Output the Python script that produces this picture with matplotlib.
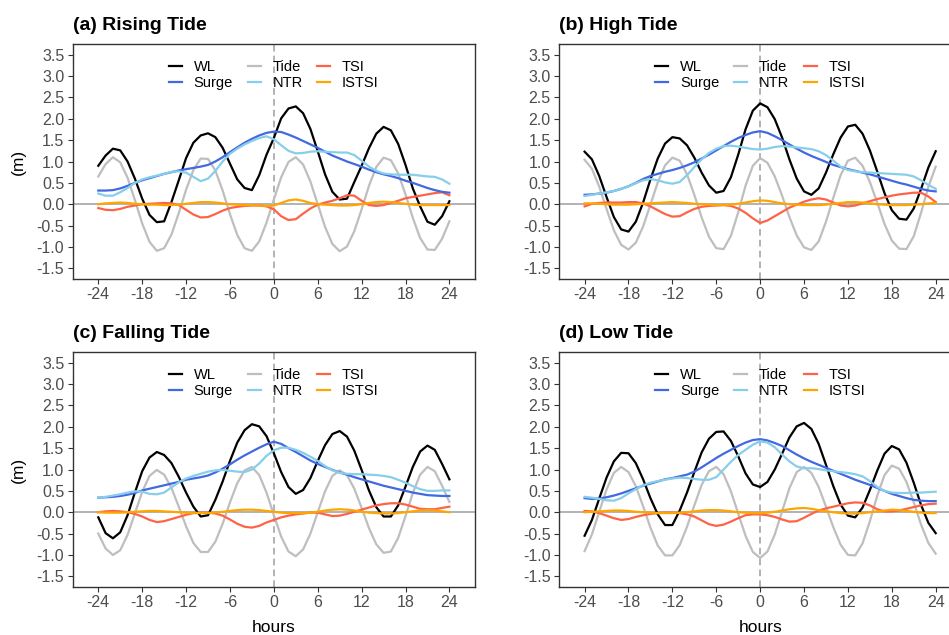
import matplotlib
matplotlib.use("Agg")
import matplotlib.pyplot as plt

plt.rcParams['font.family'] = ['Liberation Sans', 'DejaVu Sans']

hours = list(range(-24, 25))

# (a) rising tide
wl_a = [0.90, 1.14, 1.30, 1.26, 1.00, 0.60, 0.13, -0.25, -0.42, -0.40,
        0.05, 0.56, 1.08, 1.44, 1.61, 1.66, 1.57, 1.32, 0.95, 0.58,
        0.38, 0.33, 0.68, 1.16, 1.55, 2.01, 2.24, 2.29, 2.13, 1.76,
        1.24, 0.70, 0.29, 0.11, 0.13, 0.52, 0.90, 1.31, 1.65, 1.81,
        1.73, 1.41, 0.92, 0.37, -0.05, -0.41, -0.48, -0.28, 0.07]
tide_a = [0.65, 0.94, 1.10, 0.98, 0.62, 0.10, -0.45, -0.88, -1.09, -1.03,
          -0.71, -0.21, 0.34, 0.80, 1.07, 1.06, 0.79, 0.32, -0.23, -0.72,
          -1.03, -1.09, -0.87, -0.43, 0.11, 0.63, 0.99, 1.10, 0.93, 0.53,
          0.00, -0.53, -0.93, -1.10, -0.99, -0.63, -0.12, 0.43, 0.87, 1.09,
          1.03, 0.72, 0.23, -0.32, -0.79, -1.06, -1.07, -0.81, -0.40]
surge_a = [0.32, 0.32, 0.33, 0.37, 0.43, 0.50, 0.56, 0.61, 0.66, 0.71,
           0.75, 0.79, 0.82, 0.85, 0.88, 0.92, 1.00, 1.10, 1.22, 1.33,
           1.44, 1.53, 1.61, 1.67, 1.70, 1.69, 1.63, 1.56, 1.48, 1.40,
           1.32, 1.23, 1.14, 1.07, 1.00, 0.94, 0.88, 0.81, 0.75, 0.70,
           0.66, 0.61, 0.55, 0.50, 0.44, 0.38, 0.33, 0.29, 0.27]
ntr_a = [0.25, 0.20, 0.20, 0.28, 0.38, 0.50, 0.58, 0.63, 0.67, 0.71,
         0.76, 0.77, 0.74, 0.64, 0.54, 0.60, 0.78, 1.00, 1.18, 1.30,
         1.40, 1.48, 1.55, 1.59, 1.52, 1.38, 1.25, 1.19, 1.20, 1.23,
         1.24, 1.23, 1.22, 1.21, 1.21, 1.15, 1.02, 0.88, 0.78, 0.72,
         0.70, 0.69, 0.69, 0.69, 0.67, 0.65, 0.64, 0.58, 0.48]
tsi_a = [-0.09, -0.13, -0.14, -0.11, -0.06, -0.03, 0.00, 0.01, 0.02, 0.03,
         0.02, -0.02, -0.13, -0.24, -0.31, -0.30, -0.23, -0.15, -0.09, -0.06,
         -0.04, -0.03, -0.03, -0.05, -0.12, -0.28, -0.37, -0.35, -0.22, -0.10,
         -0.01, 0.04, 0.08, 0.14, 0.21, 0.20, 0.08, -0.02, -0.04, -0.02,
         0.03, 0.08, 0.14, 0.17, 0.20, 0.23, 0.26, 0.28, 0.21]
istsi_a = [0.00, 0.02, 0.03, 0.04, 0.03, 0.01, 0.00, -0.01, -0.01, -0.02,
           -0.02, -0.01, 0.01, 0.03, 0.05, 0.05, 0.04, 0.02, 0.00, -0.01,
           -0.02, -0.02, -0.03, -0.04, -0.03, 0.03, 0.09, 0.11, 0.08, 0.03,
           0.00, -0.01, -0.02, -0.03, -0.03, -0.02, 0.00, 0.03, 0.05, 0.06,
           0.05, 0.03, 0.01, -0.01, -0.02, -0.02, -0.02, -0.02, -0.02]

# (b) high tide
wl_b = [1.23, 1.05, 0.66, 0.17, -0.30, -0.59, -0.64, -0.41, 0.04, 0.58,
        1.07, 1.42, 1.57, 1.54, 1.38, 1.09, 0.74, 0.44, 0.27, 0.31,
        0.63, 1.16, 1.75, 2.19, 2.36, 2.27, 1.99, 1.56, 1.05, 0.60,
        0.30, 0.22, 0.37, 0.74, 1.17, 1.56, 1.82, 1.86, 1.65, 1.26,
        0.77, 0.26, -0.14, -0.34, -0.36, -0.10, 0.36, 0.86, 1.24]
tide_b = [1.04, 0.83, 0.41, -0.11, -0.61, -0.95, -1.06, -0.90, -0.52, -0.01,
          0.51, 0.91, 1.09, 1.02, 0.70, 0.22, -0.31, -0.76, -1.03, -1.05,
          -0.74, -0.19, 0.43, 0.90, 1.08, 0.97, 0.65, 0.20, -0.30, -0.73,
          -1.01, -1.07, -0.87, -0.41, 0.15, 0.68, 1.02, 1.09, 0.90, 0.52,
          0.04, -0.46, -0.85, -1.04, -1.05, -0.75, -0.20, 0.41, 0.88]
surge_b = [0.22, 0.23, 0.25, 0.27, 0.31, 0.36, 0.42, 0.50, 0.59, 0.66,
           0.71, 0.76, 0.80, 0.85, 0.91, 0.98, 1.07, 1.16, 1.26, 1.36,
           1.46, 1.55, 1.62, 1.68, 1.71, 1.67, 1.59, 1.50, 1.40, 1.30,
           1.21, 1.13, 1.06, 0.99, 0.92, 0.87, 0.82, 0.78, 0.74, 0.70,
           0.65, 0.60, 0.55, 0.50, 0.46, 0.41, 0.36, 0.32, 0.30]
ntr_b = [0.19, 0.22, 0.25, 0.28, 0.31, 0.36, 0.42, 0.49, 0.56, 0.59,
         0.56, 0.51, 0.48, 0.52, 0.68, 0.87, 1.05, 1.20, 1.30, 1.36,
         1.37, 1.35, 1.32, 1.29, 1.28, 1.30, 1.34, 1.36, 1.35, 1.33,
         1.31, 1.29, 1.24, 1.15, 1.02, 0.88, 0.80, 0.77, 0.75, 0.74,
         0.73, 0.72, 0.71, 0.70, 0.69, 0.65, 0.56, 0.45, 0.36]
tsi_b = [-0.05, 0.01, 0.03, 0.04, 0.04, 0.04, 0.05, 0.05, 0.02, -0.05,
         -0.14, -0.23, -0.29, -0.28, -0.19, -0.11, -0.06, -0.04, -0.03, -0.02,
         -0.04, -0.10, -0.20, -0.33, -0.44, -0.38, -0.28, -0.18, -0.08, -0.01,
         0.06, 0.11, 0.14, 0.11, 0.04, -0.03, -0.05, -0.03, 0.02, 0.07,
         0.12, 0.16, 0.20, 0.23, 0.25, 0.27, 0.27, 0.18, 0.05]
istsi_b = [0.02, 0.02, 0.01, 0.00, -0.01, -0.01, -0.01, 0.00, 0.01, 0.02,
           0.03, 0.04, 0.05, 0.04, 0.03, 0.01, 0.00, -0.01, -0.02, -0.02,
           -0.01, 0.01, 0.04, 0.07, 0.09, 0.08, 0.05, 0.02, 0.00, -0.01,
           -0.02, -0.02, -0.02, -0.01, 0.01, 0.03, 0.05, 0.05, 0.04, 0.02,
           0.00, -0.01, -0.02, -0.02, -0.02, -0.01, 0.00, 0.02, 0.03]

# (c) falling tide
wl_c = [-0.12, -0.49, -0.61, -0.47, -0.07, 0.46, 0.96, 1.28, 1.41, 1.34,
        1.15, 0.83, 0.46, 0.13, -0.10, -0.07, 0.29, 0.72, 1.20, 1.63,
        1.92, 2.06, 2.01, 1.78, 1.38, 0.94, 0.59, 0.43, 0.52, 0.80,
        1.20, 1.57, 1.83, 1.90, 1.77, 1.44, 0.99, 0.51, 0.12, -0.10,
        -0.10, 0.16, 0.60, 1.06, 1.42, 1.56, 1.46, 1.13, 0.77]
tide_c = [-0.50, -0.85, -1.00, -0.89, -0.53, -0.03, 0.48, 0.85, 0.99, 0.88,
          0.57, 0.13, -0.33, -0.72, -0.93, -0.93, -0.69, -0.27, 0.23, 0.68,
          0.98, 1.06, 0.87, 0.46, -0.07, -0.57, -0.92, -1.03, -0.87, -0.50,
          0.00, 0.49, 0.85, 0.98, 0.87, 0.55, 0.10, -0.37, -0.75, -0.95,
          -0.92, -0.60, -0.09, 0.45, 0.88, 1.06, 0.96, 0.62, 0.24]
surge_c = [0.34, 0.35, 0.36, 0.38, 0.41, 0.45, 0.51, 0.55, 0.59, 0.63,
           0.67, 0.71, 0.76, 0.79, 0.82, 0.86, 0.93, 1.02, 1.12, 1.23,
           1.33, 1.42, 1.51, 1.59, 1.65, 1.60, 1.50, 1.41, 1.31, 1.21,
           1.13, 1.06, 0.99, 0.93, 0.88, 0.82, 0.77, 0.72, 0.67, 0.62,
           0.58, 0.54, 0.50, 0.46, 0.43, 0.40, 0.39, 0.38, 0.38]
ntr_c = [0.34, 0.36, 0.39, 0.42, 0.46, 0.49, 0.48, 0.43, 0.42, 0.46,
         0.58, 0.70, 0.79, 0.85, 0.90, 0.95, 0.98, 0.99, 0.97, 0.95,
         0.94, 1.00, 1.14, 1.32, 1.45, 1.51, 1.51, 1.46, 1.39, 1.30,
         1.20, 1.08, 0.98, 0.92, 0.90, 0.89, 0.89, 0.88, 0.87, 0.85,
         0.82, 0.76, 0.69, 0.61, 0.54, 0.50, 0.50, 0.51, 0.51]
tsi_c = [0.00, 0.02, 0.03, 0.02, 0.00, -0.04, -0.10, -0.18, -0.23, -0.21,
         -0.16, -0.11, -0.06, -0.02, -0.01, -0.01, -0.03, -0.08, -0.17, -0.27,
         -0.34, -0.36, -0.32, -0.24, -0.18, -0.12, -0.08, -0.05, -0.03, -0.01,
         -0.01, -0.05, -0.09, -0.08, -0.04, 0.01, 0.06, 0.11, 0.16, 0.19,
         0.21, 0.21, 0.18, 0.13, 0.08, 0.07, 0.07, 0.10, 0.13]
istsi_c = [0.00, -0.01, -0.01, -0.01, 0.00, 0.01, 0.02, 0.03, 0.03, 0.02,
           0.01, 0.00, -0.01, -0.02, -0.02, -0.02, -0.01, 0.01, 0.03, 0.05,
           0.06, 0.06, 0.05, 0.03, 0.01, -0.01, -0.02, -0.02, -0.02, -0.01,
           0.01, 0.04, 0.06, 0.07, 0.06, 0.04, 0.01, -0.01, -0.02, -0.03,
           -0.03, -0.02, 0.00, 0.02, 0.04, 0.05, 0.04, 0.02, 0.00]

# (d) low tide
wl_d = [-0.55, -0.18, 0.32, 0.81, 1.19, 1.39, 1.38, 1.15, 0.77, 0.33,
        -0.05, -0.30, -0.30, 0.04, 0.46, 0.94, 1.40, 1.72, 1.88, 1.89,
        1.67, 1.31, 0.91, 0.65, 0.59, 0.71, 1.00, 1.37, 1.75, 2.01,
        2.09, 1.95, 1.60, 1.11, 0.61, 0.18, -0.08, -0.12, 0.11, 0.52,
        0.97, 1.37, 1.55, 1.47, 1.16, 0.69, 0.17, -0.25, -0.49]
tide_d = [-0.91, -0.52, 0.01, 0.53, 0.92, 1.06, 0.94, 0.61, 0.14, -0.36,
          -0.78, -1.01, -1.01, -0.77, -0.34, 0.16, 0.64, 0.96, 1.06, 0.89,
          0.49, -0.03, -0.55, -0.93, -1.07, -0.92, -0.52, 0.02, 0.56, 0.94,
          1.06, 0.92, 0.59, 0.13, -0.35, -0.76, -1.00, -1.01, -0.73, -0.21,
          0.38, 0.87, 1.09, 1.02, 0.71, 0.23, -0.29, -0.72, -0.97]
surge_d = [0.33, 0.31, 0.32, 0.35, 0.39, 0.44, 0.50, 0.56, 0.62, 0.67,
           0.72, 0.77, 0.80, 0.84, 0.88, 0.95, 1.05, 1.16, 1.27, 1.37,
           1.46, 1.55, 1.63, 1.69, 1.71, 1.68, 1.62, 1.55, 1.45, 1.35,
           1.26, 1.18, 1.11, 1.04, 0.97, 0.90, 0.83, 0.76, 0.70, 0.64,
           0.57, 0.50, 0.43, 0.38, 0.33, 0.29, 0.27, 0.26, 0.26]
ntr_d = [0.36, 0.34, 0.31, 0.28, 0.27, 0.33, 0.44, 0.54, 0.63, 0.69,
         0.73, 0.76, 0.79, 0.81, 0.80, 0.78, 0.76, 0.76, 0.82, 1.00,
         1.18, 1.34, 1.46, 1.58, 1.66, 1.63, 1.52, 1.35, 1.19, 1.07,
         1.03, 1.03, 1.01, 0.98, 0.96, 0.94, 0.92, 0.89, 0.84, 0.73,
         0.59, 0.50, 0.46, 0.45, 0.45, 0.46, 0.46, 0.47, 0.48]
tsi_d = [0.03, 0.02, -0.02, -0.08, -0.14, -0.18, -0.16, -0.11, -0.07, -0.04,
         -0.02, -0.01, -0.01, -0.02, -0.05, -0.10, -0.19, -0.28, -0.32, -0.29,
         -0.22, -0.14, -0.07, -0.05, -0.05, -0.07, -0.11, -0.17, -0.22, -0.21,
         -0.13, -0.04, 0.04, 0.09, 0.13, 0.17, 0.21, 0.23, 0.22, 0.16,
         0.07, 0.02, 0.02, 0.04, 0.08, 0.12, 0.16, 0.19, 0.20]
istsi_d = [0.00, 0.01, 0.02, 0.03, 0.04, 0.04, 0.03, 0.01, 0.00, -0.01,
           -0.02, -0.02, -0.02, -0.01, 0.00, 0.02, 0.04, 0.05, 0.05, 0.04,
           0.02, 0.00, -0.01, -0.02, -0.02, -0.01, 0.01, 0.04, 0.07, 0.09,
           0.10, 0.08, 0.05, 0.02, 0.00, -0.02, -0.03, -0.03, -0.02, 0.00,
           0.02, 0.04, 0.06, 0.05, 0.03, 0.01, -0.01, -0.02, -0.02]

titles = ["(a) Rising Tide", "(b) High Tide", "(c) Falling Tide", "(d) Low Tide"]
series_names = ["WL", "Tide", "TSI", "Surge", "NTR", "ISTSI"]
series_colors = ["black", "#BEBEBE", "#FF6347", "#4169E1", "#87CEEB", "#FFA500"]
legend_order = ["WL", "Surge", "Tide", "NTR", "TSI", "ISTSI"]

x_ticks = [-24, -18, -12, -6, 0, 6, 12, 18, 24]
y_ticks = [-1.5, -1.0, -0.5, 0.0, 0.5, 1.0, 1.5, 2.0, 2.5, 3.0, 3.5]

panel_data = [
    [wl_a, tide_a, tsi_a, surge_a, ntr_a, istsi_a],
    [wl_b, tide_b, tsi_b, surge_b, ntr_b, istsi_b],
    [wl_c, tide_c, tsi_c, surge_c, ntr_c, istsi_c],
    [wl_d, tide_d, tsi_d, surge_d, ntr_d, istsi_d],
]

W, H = 949, 635
# axes boxes in pixels: left, top, width, height
boxes = [(72.7, 44, 402.3, 235), (559, 44, 402.3, 235),
         (72.7, 352, 402.3, 235), (559, 352, 402.3, 235)]

fig = plt.figure(figsize=(W / 100, H / 100), dpi=100)

for i, (box, data, title) in enumerate(zip(boxes, panel_data, titles)):
    left, top, width, height = box
    ax = fig.add_axes([left / W, 1 - (top + height) / H, width / W, height / H])

    ax.axhline(0, color="#A6A6A6", lw=1.2, zorder=1)
    ax.axvline(0, color="#A6A6A6", lw=1.2, ls=(0, (4, 2.5)), zorder=1)

    handles = {}
    for name, color, values in zip(series_names, series_colors, data):
        line, = ax.plot(hours, values, color=color, lw=1.6, label=name, zorder=2)
        handles[name] = line

    ax.set_xlim(-27.5, 27.5)
    ax.set_ylim(-1.75, 3.75)
    ax.set_xticks(x_ticks)
    ax.set_xticklabels([str(t) for t in x_ticks])
    ax.set_yticks(y_ticks)
    ax.set_yticklabels([f"{v:.1f}" for v in y_ticks])
    ax.tick_params(direction="out", length=3.5, width=0.8, color="#333333",
                   labelcolor="#4D4D4D", labelsize=11.5, pad=2.5)
    for sp in ax.spines.values():
        sp.set_color("#333333")
        sp.set_linewidth(1.0)

    ax.legend([handles[n] for n in legend_order], legend_order,
              loc="upper center", bbox_to_anchor=(0.5, 1.0), ncol=3,
              frameon=False, fontsize=10.5, handlelength=0.9,
              handletextpad=0.8, columnspacing=1.0, labelspacing=0.15,
              borderpad=0, borderaxespad=1.1)

    fig.text(left / W, 1 - (top - 18.5) / H, title, ha="left", va="center",
             fontsize=14, fontweight="bold")
    if i % 2 == 0:
        fig.text(18 / W, 1 - (top + height / 2) / H, "(m)", rotation=90,
                 ha="center", va="center", fontsize=12.5)
    if i >= 2:
        fig.text((left + width / 2) / W, 1 - 627 / H, "hours",
                 ha="center", va="center", fontsize=12.5)

fig.savefig("out.png", dpi=100)
